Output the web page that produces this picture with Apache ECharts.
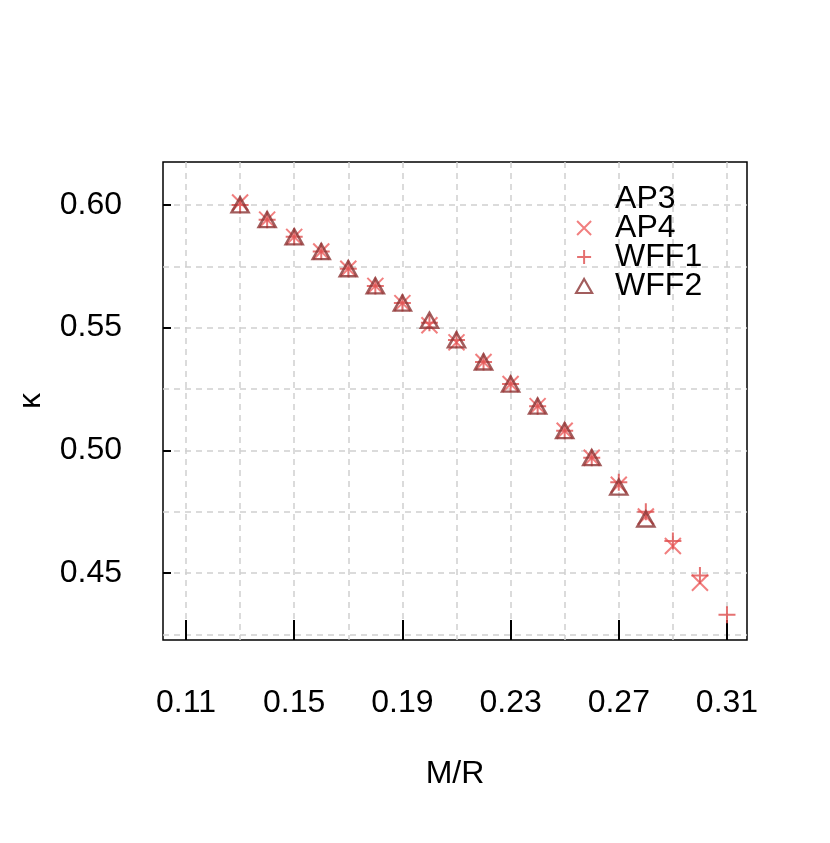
<!DOCTYPE html>
<html>
<head>
<meta charset="utf-8">
<script src="https://cdn.jsdelivr.net/npm/echarts@6/dist/echarts.min.js"></script>
<style>html,body{margin:0;padding:0;background:#fff}#c{width:830px;height:843px}</style>
</head>
<body>
<div id="c"></div>
<script>
var xLabelTicks = [0.11, 0.15, 0.19, 0.23, 0.27, 0.31];
var xGridTicks = [0.11, 0.13, 0.15, 0.17, 0.19, 0.21, 0.23, 0.25, 0.27, 0.29, 0.31];
var yLabelTicks = [0.45, 0.50, 0.55, 0.60];
var yGridTicks = [0.425, 0.45, 0.475, 0.50, 0.525, 0.55, 0.575, 0.60];

var mrAP4  = [0.13,0.14,0.15,0.16,0.17,0.18,0.19,0.20,0.21,0.22,0.23,0.24,0.25,0.26,0.27,0.28,0.29,0.30];
var kAP4   = [0.601,0.594,0.587,0.581,0.574,0.567,0.560,0.551,0.544,0.536,0.527,0.518,0.508,0.497,0.486,0.473,0.461,0.446];
var mrWFF1 = [0.13,0.14,0.15,0.16,0.17,0.18,0.19,0.20,0.21,0.22,0.23,0.24,0.25,0.26,0.27,0.28,0.29,0.30,0.31];
var kWFF1  = [0.600,0.594,0.587,0.581,0.574,0.567,0.560,0.552,0.545,0.536,0.527,0.518,0.508,0.497,0.487,0.475,0.463,0.449,0.433];
var mrWFF2 = [0.13,0.14,0.15,0.16,0.17,0.18,0.19,0.20,0.21,0.22,0.23,0.24,0.25,0.26,0.27,0.28];
var kWFF2  = [0.600,0.594,0.587,0.581,0.574,0.567,0.560,0.553,0.545,0.536,0.527,0.518,0.508,0.497,0.485,0.472];

function zip(a, b) { return a.map(function (v, i) { return [v, b[i]]; }); }

var cAP4 = '#EE5F5F', cWFF1 = '#DE4E4E', cWFF2 = '#8B3434';
var symX = 'path://M0,0L10,10M10,0L0,10';
var symPlus = 'path://M5,0L5,10M0,5L10,5';
var FONT = 'Liberation Sans';
var FS = 32;

var chart = echarts.init(document.getElementById('c'), null, {renderer: 'canvas'});
chart.setOption({
  animation: false,
  backgroundColor: '#fff',
  textStyle: {fontFamily: FONT},
  grid: {left: 163, top: 162, width: 584, height: 478, show: true, borderColor: '#000', borderWidth: 1.5, backgroundColor: 'transparent'},
  legend: {
    orient: 'vertical', left: 570, top: 178, itemWidth: 16, itemHeight: 14, itemGap: -3,
    textStyle: {fontFamily: FONT, fontSize: FS, color: '#000', padding: [0, 0, 0, 18]},
    data: [
      {name: 'AP3', itemStyle: {opacity: 0}},
      {name: 'AP4', icon: symX, itemStyle: {color: 'transparent', borderColor: cAP4, borderWidth: 2}},
      {name: 'WFF1', icon: symPlus, itemStyle: {color: 'transparent', borderColor: cWFF1, borderWidth: 2}},
      {name: 'WFF2', icon: 'triangle', itemStyle: {color: 'transparent', borderColor: cWFF2, borderWidth: 2.2}}
    ]
  },
  xAxis: [
    {type: 'value', min: 0.1015, max: 0.3174, name: 'M/R', nameLocation: 'middle', nameGap: 118,
     nameTextStyle: {fontFamily: FONT, fontSize: FS, color: '#000'},
     axisLine: {show: false},
     axisTick: {show: true, inside: true, length: 20, lineStyle: {color: '#000', width: 2}, customValues: xLabelTicks},
     axisLabel: {show: true, margin: 47, fontFamily: FONT, fontSize: FS, color: '#000', customValues: xLabelTicks,
                 formatter: function (v) { return v.toFixed(2); }},
     splitLine: {show: false}},
    {type: 'value', min: 0.1015, max: 0.3174, position: 'bottom',
     axisLine: {show: false}, axisLabel: {show: false},
     axisTick: {show: false, customValues: xGridTicks},
     splitLine: {show: true, lineStyle: {color: '#D0D0D0', width: 1.5, type: [6, 5]}}}
  ],
  yAxis: [
    {type: 'value', min: 0.4227, max: 0.6175, name: 'κ', nameLocation: 'middle', nameGap: 116, nameRotate: 90,
     nameTextStyle: {fontFamily: FONT, fontSize: FS, color: '#000'},
     axisLine: {show: false},
     axisTick: {show: true, inside: true, length: 8, lineStyle: {color: '#000', width: 2}, customValues: yLabelTicks},
     axisLabel: {show: true, margin: 41, fontFamily: FONT, fontSize: FS, color: '#000', customValues: yLabelTicks,
                 formatter: function (v) { return v.toFixed(2); }},
     splitLine: {show: false}},
    {type: 'value', min: 0.4227, max: 0.6175, position: 'left',
     axisLine: {show: false}, axisLabel: {show: false},
     axisTick: {show: false, customValues: yGridTicks},
     splitLine: {show: true, lineStyle: {color: '#D0D0D0', width: 1.5, type: [6, 5]}}}
  ],
  series: [
    {name: 'AP3', type: 'scatter', data: [], symbol: 'none'},
    {name: 'AP4', type: 'scatter', data: zip(mrAP4, kAP4), symbol: symX, symbolSize: 16, z: 3,
     itemStyle: {color: 'transparent', borderColor: cAP4, borderWidth: 2}},
    {name: 'WFF1', type: 'scatter', data: zip(mrWFF1, kWFF1), symbol: symPlus, symbolSize: 17, z: 4,
     itemStyle: {color: 'transparent', borderColor: cWFF1, borderWidth: 2}},
    {name: 'WFF2', type: 'scatter', data: zip(mrWFF2, kWFF2), symbol: 'triangle', symbolSize: [17, 15], z: 5,
     itemStyle: {color: 'transparent', borderColor: cWFF2, borderWidth: 2.5}}
  ]
});
</script>
</body>
</html>
